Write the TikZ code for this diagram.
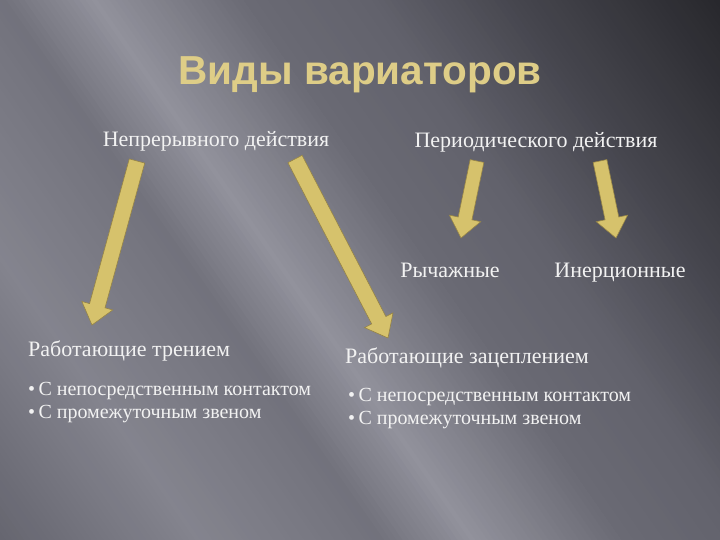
\documentclass[tikz,border=0pt]{standalone}
\usepackage{fontspec}
\setmainfont{Liberation Serif}
\newfontfamily\titlefont{Liberation Sans}
\usetikzlibrary{calc}
\definecolor{txt}{RGB}{242,242,242}
\definecolor{arrfill}{RGB}{214,194,108}
\definecolor{arredge}{RGB}{150,132,70}
\definecolor{ttl}{RGB}{222,205,135}
\definecolor{bgA}{RGB}{98,98,108}
\definecolor{bgB}{RGB}{132,132,142}
\definecolor{bgC}{RGB}{114,114,124}
\definecolor{bgD}{RGB}{146,146,156}
\definecolor{bgE}{RGB}{106,106,116}
\definecolor{bgF}{RGB}{98,98,108}
\definecolor{bgG}{RGB}{70,70,78}
\definecolor{bgH}{RGB}{34,34,38}
\newcommand{\bgseg}[4]{%
  \pgfmathsetmacro{\nseg}{int((#2-(#1))/5)}%
  \foreach \i in {0,...,\nseg}{%
    \pgfmathsetmacro{\pmix}{100*\i/\nseg}%
    \pgfmathsetmacro{\spos}{#1+5*\i}%
    \fill[#4!\pmix!#3] (\spos,-60) rectangle (\spos+6,960);}}
\newcommand{\blockarr}[4]{%
  \coordinate (hb) at ($(#2)!20pt!(#1)$);
  \fill[arrfill, draw=arredge, line width=0.6pt, line join=miter]
    ($(#1)!#3!-90:(#2)$) -- ($(hb)!#3!90:(#1)$) -- ($(hb)!#4!90:(#1)$) -- (#2)
    -- ($(hb)!#4!-90:(#1)$) -- ($(hb)!#3!-90:(#1)$) -- ($(#1)!#3!90:(#2)$) -- cycle;}
\tikzset{
  lbl/.style={text=txt, font=\fontsize{22}{26}\selectfont, inner sep=0pt, anchor=base},
  lst/.style={text=txt, inner sep=0pt, anchor=base west, font=\fontsize{20}{24}\selectfont}
}
\begin{document}
\begin{tikzpicture}[x=1pt,y=-1pt]
\useasboundingbox (0,0) rectangle (720,540);
\begin{scope}
\clip (0,0) rectangle (720,540);
\begin{scope}[rotate=35]
\bgseg{-330}{-150}{bgA}{bgB}
\bgseg{-150}{0}{bgB}{bgC}
\bgseg{0}{75}{bgC}{bgD}
\bgseg{75}{200}{bgD}{bgE}
\bgseg{200}{300}{bgE}{bgF}
\bgseg{300}{420}{bgF}{bgG}
\bgseg{420}{620}{bgG}{bgH}
\end{scope}
\end{scope}
% title
\node (title) [inner sep=0pt, anchor=base, text=ttl, font=\titlefont\bfseries\fontsize{40.5}{44}\selectfont] at (360,85) {Виды вариаторов};
% labels
\node (n1) [lbl] at (216,147) {Непрерывного действия};
\node (n2) [lbl] at (536,148) {Периодического действия};
\node (r1) [lbl] at (450,277) {Рычажные};
\node (r2) [lbl] at (620,277) {Инерционные};
\node (f1) [lbl, anchor=base west] at (28,356) {Работающие трением};
\node (f2) [lbl, anchor=base west] at (345,363) {Работающие зацеплением};
\node (b1a) [lst] at (28,395) {•\,С непосредственным контактом};
\node (b1b) [lst] at (28,418) {•\,С промежуточным звеном};
\node (b2a) [lst] at (348,401) {•\,С непосредственным контактом};
\node (b2b) [lst] at (348,424) {•\,С промежуточным звеном};
% arrows
\coordinate (t1) at (137,161); \coordinate (p1) at (92,325);
\coordinate (t2) at (295,159); \coordinate (p2) at (388,338);
\coordinate (t3) at (477,161); \coordinate (p3) at (461,238);
\coordinate (t4) at (600,161); \coordinate (p4) at (616,238);
\blockarr{t1}{p1}{8pt}{16pt}
\blockarr{t2}{p2}{8pt}{16pt}
\blockarr{t3}{p3}{7pt}{16pt}
\blockarr{t4}{p4}{7pt}{16pt}
\end{tikzpicture}
\end{document}
